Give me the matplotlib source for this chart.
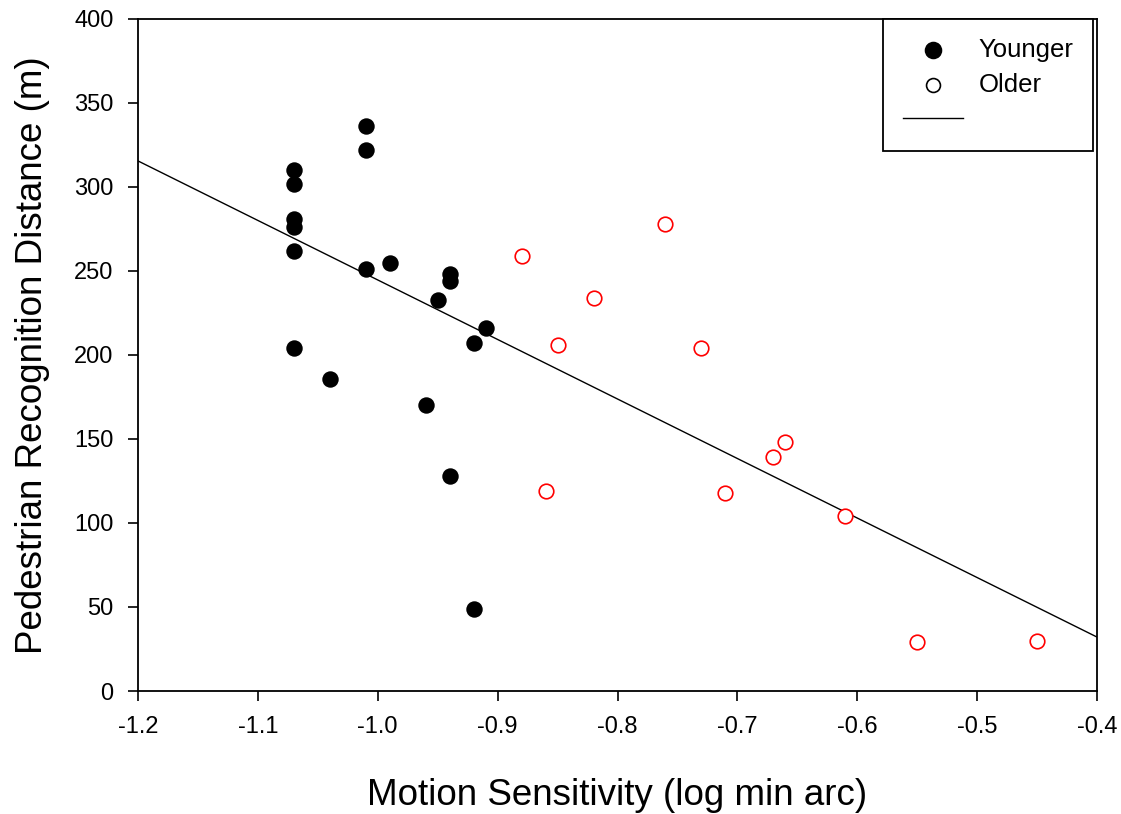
import matplotlib
matplotlib.use("Agg")
import matplotlib.pyplot as plt
import numpy as np

plt.rcParams["font.family"] = ["Liberation Sans", "DejaVu Sans"]

# Younger group: motion sensitivity (log min arc) vs recognition distance (m)
younger_x = [-1.07, -1.07, -1.07, -1.07, -1.07, -1.07, -1.04, -1.01, -1.01, -1.01,
             -0.99, -0.94, -0.94, -0.95, -0.91, -0.92, -0.96, -0.94, -0.92]
younger_y = [310, 302, 281, 276, 262, 204, 186, 336, 322, 251,
             255, 248, 244, 233, 216, 207, 170, 128, 49]

# Older group
older_x = [-0.88, -0.85, -0.86, -0.82, -0.76, -0.73, -0.71, -0.67, -0.66, -0.61, -0.55, -0.45]
older_y = [259, 206, 119, 234, 278, 204, 118, 139, 148, 104, 29, 30]

x_ticks = [-1.2, -1.1, -1.0, -0.9, -0.8, -0.7, -0.6, -0.5, -0.4]
y_ticks = [0, 50, 100, 150, 200, 250, 300, 350, 400]

# regression line fitted over both groups
all_x = np.array(younger_x + older_x, dtype=float)
all_y = np.array(younger_y + older_y, dtype=float)
slope, intercept = np.polyfit(all_x, all_y, 1)

fig = plt.figure(figsize=(11.21, 8.14), dpi=100)
ax = fig.add_axes([0.1231, 0.1511, 0.8555, 0.8256])

ax.scatter(younger_x, younger_y, s=140, color="black", linewidth=0, zorder=3, label="Younger")
ax.scatter(older_x, older_y, s=110, facecolor="white", edgecolor="red", linewidth=1.2,
           zorder=3, label="Older")
line_x = np.array([-1.2, -0.4])
ax.plot(line_x, intercept + slope * line_x, color="black", linewidth=1.0, label=" ", zorder=2)

ax.set_xlim(-1.2, -0.4)
ax.set_ylim(0, 400)
ax.set_xticks(x_ticks)
ax.set_xticklabels([f"{v:.1f}" for v in x_ticks])
ax.set_yticks(y_ticks)
ax.tick_params(direction="out", length=7.2, width=1.2, labelsize=17, pad=10.5)
for side in ax.spines.values():
    side.set_linewidth(1.3)

ax.set_xlabel("Motion Sensitivity (log min arc)", fontsize=26.5)
ax.set_ylabel("Pedestrian Recognition Distance (m)", fontsize=26.5)
ax.xaxis.set_label_coords(0.5, -0.1295)
ax.yaxis.set_label_coords(-0.0918, 0.5)

leg = ax.legend(loc="upper right", bbox_to_anchor=(0.9958, 1.0),
                fontsize=18.5, frameon=True, fancybox=False, borderpad=0.75,
                handlelength=2.37, handletextpad=0.6, labelspacing=0.42,
                borderaxespad=0, framealpha=1)
leg.get_frame().set_edgecolor("black")
leg.get_frame().set_linewidth(1.3)
# legend markers: filled one larger, open one in black
leg.legend_handles[0].set_sizes([160])
leg.legend_handles[1].set_sizes([100])
leg.legend_handles[1].set_edgecolor("black")

fig.savefig("out.png", dpi=100)
